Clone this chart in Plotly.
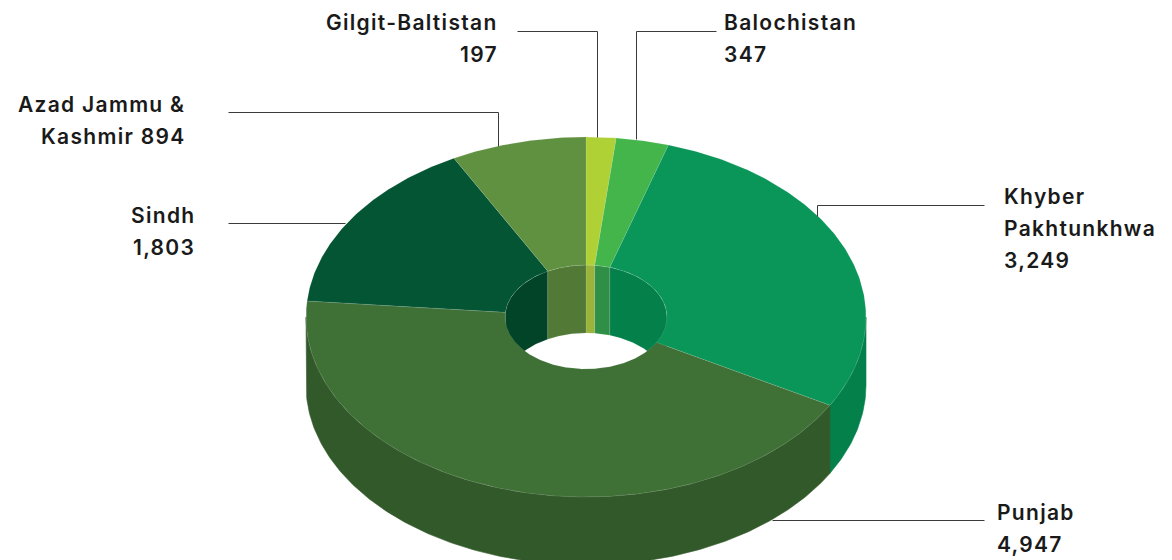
import math
import plotly.graph_objects as go

categories = ["Gilgit-Baltistan", "Balochistan", "Khyber Pakhtunkhwa", "Punjab", "Sindh", "Azad Jammu & Kashmir"]
values = [197, 347, 3249, 4947, 1803, 894]
top_colors = ["#AFD136", "#43B54A", "#0B9659", "#3F7036", "#045534", "#5F9141"]
inner_colors = ["#9AB33B", "#2F8F47", "#04814A", "#32592A", "#024428", "#527A36"]
side_colors = ["#9AB33B", "#2F8F47", "#04814A", "#32592A", "#024428", "#527A36"]

CX, CY, RX, RY, IRX, IRY, DEPTH = 586, 317, 280, 180, 81, 52, 68
FONT = dict(family="Inter", size=21, color="#1a1a1a", weight=600)
SEAM = "rgba(255,255,255,0.18)"


def arc(a0, a1, rx, ry, dy=0):
    n = max(2, int(abs(a1 - a0) * 1.5))
    xs, ys = [], []
    for i in range(n + 1):
        t = math.radians(a0 + (a1 - a0) * i / n)
        xs.append(CX + rx * math.sin(t))
        ys.append(CY - ry * math.cos(t) + dy)
    return xs, ys


def poly(xs, ys, color, seam=False):
    return go.Scatter(
        x=xs + xs[:1], y=ys + ys[:1], mode="lines", fill="toself", fillcolor=color,
        line=dict(color=SEAM if seam else color, width=0.6), hoverinfo="skip", showlegend=False,
    )


total = sum(values)
spans = []
c = 0
for v in values:
    spans.append((c / total * 360, (c + v) / total * 360))
    c += v

fig = go.Figure()

# outer wall: front half only
for (a0, a1), col in zip(spans, side_colors):
    s, e = max(a0, 90), min(a1, 270)
    if e > s:
        x1, y1 = arc(s, e, RX, RY)
        x2, y2 = arc(e, s, RX, RY, DEPTH)
        fig.add_trace(poly(x1 + x2, y1 + y2, col))

# inner wall: back half only
for (a0, a1), col in zip(spans, inner_colors):
    for lo, hi in ((0, 90), (270, 360)):
        s, e = max(a0, lo), min(a1, hi)
        if e > s:
            x1, y1 = arc(s, e, IRX, IRY)
            x2, y2 = arc(e, s, IRX, IRY, DEPTH)
            fig.add_trace(poly(x1 + x2, y1 + y2, col, seam=True))

# top face
for (a0, a1), col in zip(spans, top_colors):
    x1, y1 = arc(a0, a1, RX, RY)
    x2, y2 = arc(a1, a0, IRX, IRY)
    fig.add_trace(poly(x1 + x2, y1 + y2, col, seam=True))

# leader lines
leader_x = [[517, 597, 597], [716, 636, 636], [228, 498, 498], [228, 345], [984, 817, 817], [984, 772]]
leader_y = [[31, 31, 137], [31, 31, 139], [112, 112, 146], [223, 223], [205, 205, 216], [520, 520]]
for lx, ly in zip(leader_x, leader_y):
    fig.add_trace(go.Scatter(x=[v + 0.5 for v in lx], y=[v + 0.5 for v in ly], mode="lines",
                             line=dict(color="#3a3a3a", width=1), hoverinfo="skip", showlegend=False))

# labels, one annotation per line
label_lines = [
    ("Gilgit-Baltistan", 499, 22, "right"), ("197", 499, 54, "right"),
    ("Balochistan", 723, 22, "left"), ("347", 723, 54, "left"),
    ("Azad Jammu &", 186, 104, "right"), ("Kashmir 894", 186, 136, "right"),
    ("Sindh", 196, 215, "right"), ("1,803", 196, 247, "right"),
    ("Khyber", 1003, 196, "left"), ("Pakhtunkhwa", 1003, 228, "left"), ("3,249", 1003, 260, "left"),
    ("Punjab", 996, 512, "left"), ("4,947", 996, 544, "left"),
]
for text, x, y, align in label_lines:
    fig.add_annotation(x=x, y=y, text=f'<span style="letter-spacing:1.3px">{text}</span>',
                       showarrow=False, xanchor=align, yanchor="middle", font=FONT, borderpad=0)

fig.update_layout(
    width=1172, height=560, margin=dict(l=0, r=0, t=0, b=0),
    paper_bgcolor="white", plot_bgcolor="white", showlegend=False,
    xaxis=dict(range=[0, 1172], visible=False, fixedrange=True),
    yaxis=dict(range=[560, 0], visible=False, fixedrange=True),
)
fig.write_html("out.html", config={"displayModeBar": False},
               post_script="document.body.style.margin='0';")
